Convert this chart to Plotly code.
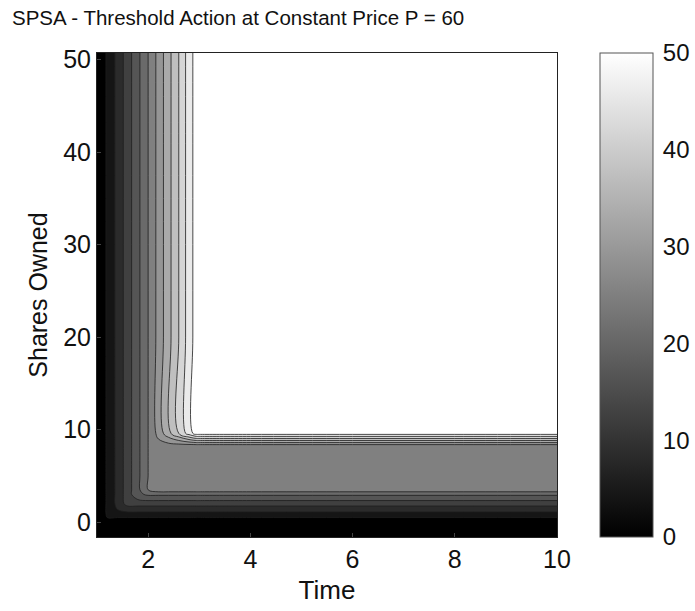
import plotly.graph_objects as go

time = [1.0, 1.2, 1.4, 1.6, 1.8, 2.0, 2.2, 2.4, 2.6, 2.8, 2.95, 3.0, 4.0, 6.0, 8.0, 10.0]
threshold_time = [0.5, 4.5, 9.2, 14.1, 19.0, 24.0, 29.3, 34.7, 40.0, 46.0, 50.0, 50.0, 50.0, 50.0, 50.0, 50.0]

shares = [-2.0, 0.0, 0.5, 1.0, 2.0, 3.0, 3.5, 5.0, 8.3, 9.6, 20.0, 30.0, 40.0, 51.0]
threshold_shares = [0.5, 0.5, 4.0, 7.3, 13.6, 20.7, 26.5, 26.5, 26.5, 50.0, 50.0, 50.0, 50.0, 50.0]

z = [[min(ft, gs) for ft in threshold_time] for gs in threshold_shares]

gray = [[0, "black"], [1, "white"]]
font_main = "Liberation Sans, Arial, sans-serif"

fig = go.Figure()
fig.add_trace(go.Contour(
    x=time, y=shares, z=z,
    colorscale=gray, zmin=0, zmax=50,
    contours=dict(start=4, end=48, size=4, coloring="fill"),
    line=dict(color="rgba(30,30,30,0.8)", width=1),
    showscale=False, hoverinfo="skip",
))
# continuous colorbar
fig.add_trace(go.Scatter(
    x=[None], y=[None], mode="markers",
    marker=dict(colorscale=gray, cmin=0, cmax=50, color=[0], showscale=True,
                colorbar=dict(
                    x=(600 - 97) / 460, xanchor="left", xpad=0,
                    y=0.5, yanchor="middle", len=1.0, lenmode="fraction", ypad=0,
                    thickness=53, outlinecolor="#555", outlinewidth=1,
                    tickvals=[0, 10, 20, 30, 40, 50], ticks="outside", ticklen=5,
                    tickcolor="rgba(255,255,255,0)",
                    tickfont=dict(family=font_main, size=24, color="#111"),
                )),
    showlegend=False, hoverinfo="skip",
))

fig.update_layout(
    width=695, height=611,
    margin=dict(l=97, r=138, t=53, b=74, autoexpand=False),
    paper_bgcolor="white", plot_bgcolor="white",
    title=dict(text="SPSA - Threshold Action at Constant Price P = 60",
               x=12 / 695, xanchor="left", y=1 - 18 / 611, yanchor="middle",
               font=dict(family=font_main, size=20.5, color="#111")),
    font=dict(family=font_main, color="#111"),
)
fig.update_xaxes(
    range=[1, 10], tickvals=[2, 4, 6, 8, 10], ticks="inside", ticklen=4,
    showline=True, linecolor="#222", linewidth=1, mirror=True, showgrid=False, zeroline=False,
    tickfont=dict(size=25), title=dict(text="Time", font=dict(size=26), standoff=8),
)
fig.update_yaxes(
    range=[-1.6, 50.7], tickvals=[0, 10, 20, 30, 40, 50], ticks="inside", ticklen=4,
    showline=True, linecolor="#222", linewidth=1, mirror=True, showgrid=False, zeroline=False,
    tickfont=dict(size=25), title=dict(text="Shares Owned", font=dict(size=25), standoff=8),
)

fig.write_html("out.html")
